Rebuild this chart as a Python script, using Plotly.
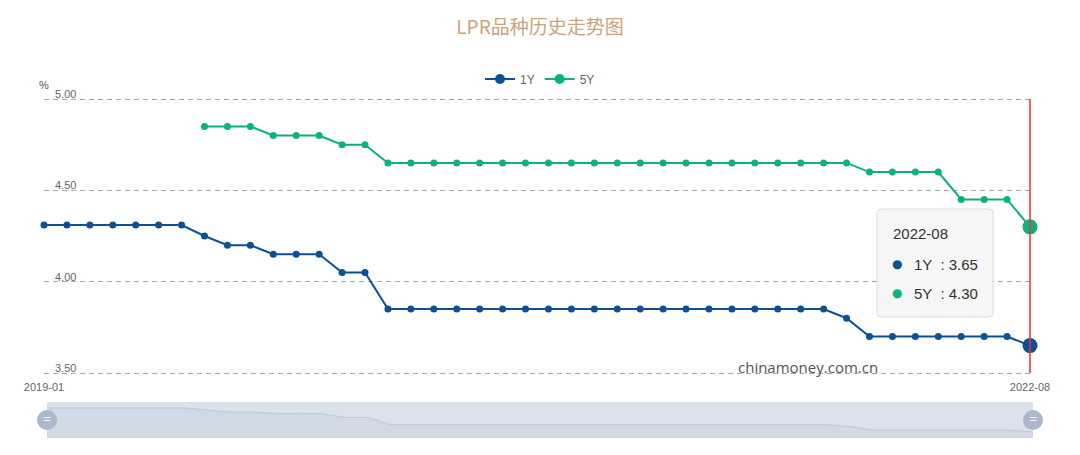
import plotly.graph_objects as go

# ---- data ----
months = [f"{y}-{m:02d}" for y in range(2019, 2023) for m in range(1, 13)][:44]
lpr_1y = [4.31, 4.31, 4.31, 4.31, 4.31, 4.31, 4.31, 4.25, 4.20, 4.20, 4.15, 4.15,
          4.15, 4.05, 4.05, 3.85, 3.85, 3.85, 3.85, 3.85, 3.85, 3.85, 3.85, 3.85,
          3.85, 3.85, 3.85, 3.85, 3.85, 3.85, 3.85, 3.85, 3.85, 3.85, 3.85, 3.80,
          3.70, 3.70, 3.70, 3.70, 3.70, 3.70, 3.70, 3.65]
lpr_5y = [None, None, None, None, None, None, None, 4.85, 4.85, 4.85, 4.80, 4.80,
          4.80, 4.75, 4.75, 4.65, 4.65, 4.65, 4.65, 4.65, 4.65, 4.65, 4.65, 4.65,
          4.65, 4.65, 4.65, 4.65, 4.65, 4.65, 4.65, 4.65, 4.65, 4.65, 4.65, 4.65,
          4.60, 4.60, 4.60, 4.60, 4.45, 4.45, 4.45, 4.30]
series_names = ["1Y", "5Y"]
y_ticks = [3.5, 4.0, 4.5, 5.0]
x_ticks = [months[0], months[-1]]

C1 = "#0b5196"
C5 = "#0db27a"
W, H = 1080, 455

def px_x(p):
    return p / W

def px_y(p):
    return 1 - p / H

n = len(months)
idx = list(range(n))
sizes = [7] * (n - 1) + [15]

# main plot: 3.50 at y=373px, 5.00 at y=99px; pad 3px so edge gridlines are drawn
top_px, bot_px, pad = 99, 373, 3
ppu = (bot_px - top_px) / (y_ticks[-1] - y_ticks[0])
y_range = [y_ticks[0] - pad / ppu, y_ticks[-1] + pad / ppu]

fig = go.Figure()
for nm, vals, col in [(series_names[0], lpr_1y, C1), (series_names[1], lpr_5y, C5)]:
    fig.add_trace(go.Scatter(x=idx, y=vals, name=nm, mode="lines+markers", showlegend=False,
                             line=dict(color=col, width=2),
                             marker=dict(color=col, size=sizes, opacity=1, line=dict(width=0)),
                             cliponaxis=False, xaxis="x", yaxis="y"))
# legend entries
for nm, col in [(series_names[0], C1), (series_names[1], C5)]:
    fig.add_trace(go.Scatter(x=[None], y=[None], name=nm, mode="lines+markers",
                             line=dict(color=col, width=2), marker=dict(color=col, size=10),
                             xaxis="x", yaxis="y"))

# slider data shadow
fig.add_trace(go.Scatter(x=idx, y=lpr_1y, mode="lines", fill="tozeroy",
                         line=dict(color="#bcc6d4", width=1), fillcolor="#d1d9e4",
                         showlegend=False, hoverinfo="skip", xaxis="x2", yaxis="y2"))
# slider handles
fig.add_trace(go.Scatter(x=[idx[0], idx[-1]], y=[3.98, 3.98], mode="markers+text",
                         text=["=", "="], textposition="middle center",
                         textfont=dict(color="white", size=13, family="Arial"),
                         marker=dict(color="#a9b8cd", size=20), cliponaxis=False,
                         showlegend=False, hoverinfo="skip", xaxis="x2", yaxis="y2"))

tick_font = dict(family="Liberation Sans, Arial", size=11, color="#666")

fig.update_layout(
    width=W, height=H,
    margin=dict(l=0, r=0, t=0, b=0, pad=0, autoexpand=False),
    paper_bgcolor="white", plot_bgcolor="white",
    title=dict(text="LPR品种历史走势图", x=0.5, xanchor="center", y=px_y(27), yanchor="middle",
               xref="container", yref="container", automargin=False,
               font=dict(family="Noto Sans CJK SC", size=19, color="#c9a47c")),
    legend=dict(orientation="h", x=0.5, xanchor="center", y=px_y(79), yanchor="middle",
                xref="container", yref="container",
                font=dict(family="Liberation Sans, Arial", size=12, color="#666"),
                itemwidth=30, tracegroupgap=0),
    xaxis=dict(domain=[px_x(44), px_x(1030)], range=[0, n - 1], showgrid=False, zeroline=False,
               showline=False, tickmode="array", tickvals=[0, n - 1], ticktext=x_ticks,
               ticks="", tickfont=tick_font, anchor="y", automargin=False,
               ticklabeloverflow="allow", ticklabelstandoff=3),
    yaxis=dict(domain=[px_y(bot_px + pad), px_y(top_px - pad)], range=y_range, tickvals=y_ticks,
               tickformat=".2f", ticklabelposition="inside top", ticklabelstandoff=8,
               ticklabelshift=3,
               ticklabeloverflow="allow", automargin=False,
               showgrid=True, gridcolor="#a8a8a8", griddash="5px,4px", gridwidth=1,
               zeroline=False, showline=False, tickfont=tick_font, anchor="x"),
    xaxis2=dict(domain=[px_x(47), px_x(1033)], range=[0, n - 1], visible=False, anchor="y2"),
    yaxis2=dict(domain=[px_y(438), px_y(402)], range=[3.485, 4.474], visible=False, anchor="x2"),
    showlegend=True,
)

shapes = []
# slider background
shapes.append(dict(type="rect", xref="paper", yref="paper", x0=px_x(47), x1=px_x(1033),
                   y0=px_y(438), y1=px_y(402), fillcolor="#dce2eb", line=dict(width=0), layer="below"))
# crosshair
shapes.append(dict(type="line", xref="paper", yref="paper", x0=px_x(1030), x1=px_x(1030),
                   y0=px_y(373), y1=px_y(99), line=dict(color="#ff2a2a", width=1.5), layer="above"))
# tooltip box (rounded)
x0, x1, y0, y1, r = 877, 993, 209, 317, 4
path = (f"M {px_x(x0 + r)},{px_y(y0)} L {px_x(x1 - r)},{px_y(y0)} "
        f"Q {px_x(x1)},{px_y(y0)} {px_x(x1)},{px_y(y0 + r)} "
        f"L {px_x(x1)},{px_y(y1 - r)} Q {px_x(x1)},{px_y(y1)} {px_x(x1 - r)},{px_y(y1)} "
        f"L {px_x(x0 + r)},{px_y(y1)} Q {px_x(x0)},{px_y(y1)} {px_x(x0)},{px_y(y1 - r)} "
        f"L {px_x(x0)},{px_y(y0 + r)} Q {px_x(x0)},{px_y(y0)} {px_x(x0 + r)},{px_y(y0)} Z")
shapes.append(dict(type="path", xref="paper", yref="paper", path=path,
                   fillcolor="rgba(245,245,245,0.95)", line=dict(color="#dcdcdc", width=1)))
fig.update_layout(shapes=shapes)

ann = []
ann.append(dict(text="%", xref="paper", yref="paper", x=px_x(44), y=px_y(85), xanchor="center",
                yanchor="middle", showarrow=False, font=dict(family="Liberation Sans, Arial", size=11, color="#555")))
ann.append(dict(text="chinamoney.com.cn", xref="paper", yref="paper", x=px_x(808), y=px_y(367),
                xanchor="center", yanchor="middle", showarrow=False,
                font=dict(family="Open Sans", size=15, color="#555")))
tip_font = dict(family="Liberation Sans, Arial", size=15, color="#333")
ann.append(dict(text=months[-1], xref="paper", yref="paper", x=px_x(891), y=px_y(234),
                xanchor="left", yanchor="middle", showarrow=False, font=tip_font))
for i, (nm, vals, col) in enumerate([(series_names[0], lpr_1y, C1), (series_names[1], lpr_5y, C5)]):
    yy = 264 + i * 29
    ann.append(dict(text="●", xref="paper", yref="paper", x=px_x(897), y=px_y(yy),
                    xanchor="center", yanchor="middle", showarrow=False,
                    font=dict(family="DejaVu Sans", size=12, color=col)))
    ann.append(dict(text=f"{nm}  : {vals[-1]:.2f}", xref="paper", yref="paper", x=px_x(912), y=px_y(yy),
                    xanchor="left", yanchor="middle", showarrow=False, font=tip_font))
fig.update_layout(annotations=ann)

fig.write_html("out.html")
